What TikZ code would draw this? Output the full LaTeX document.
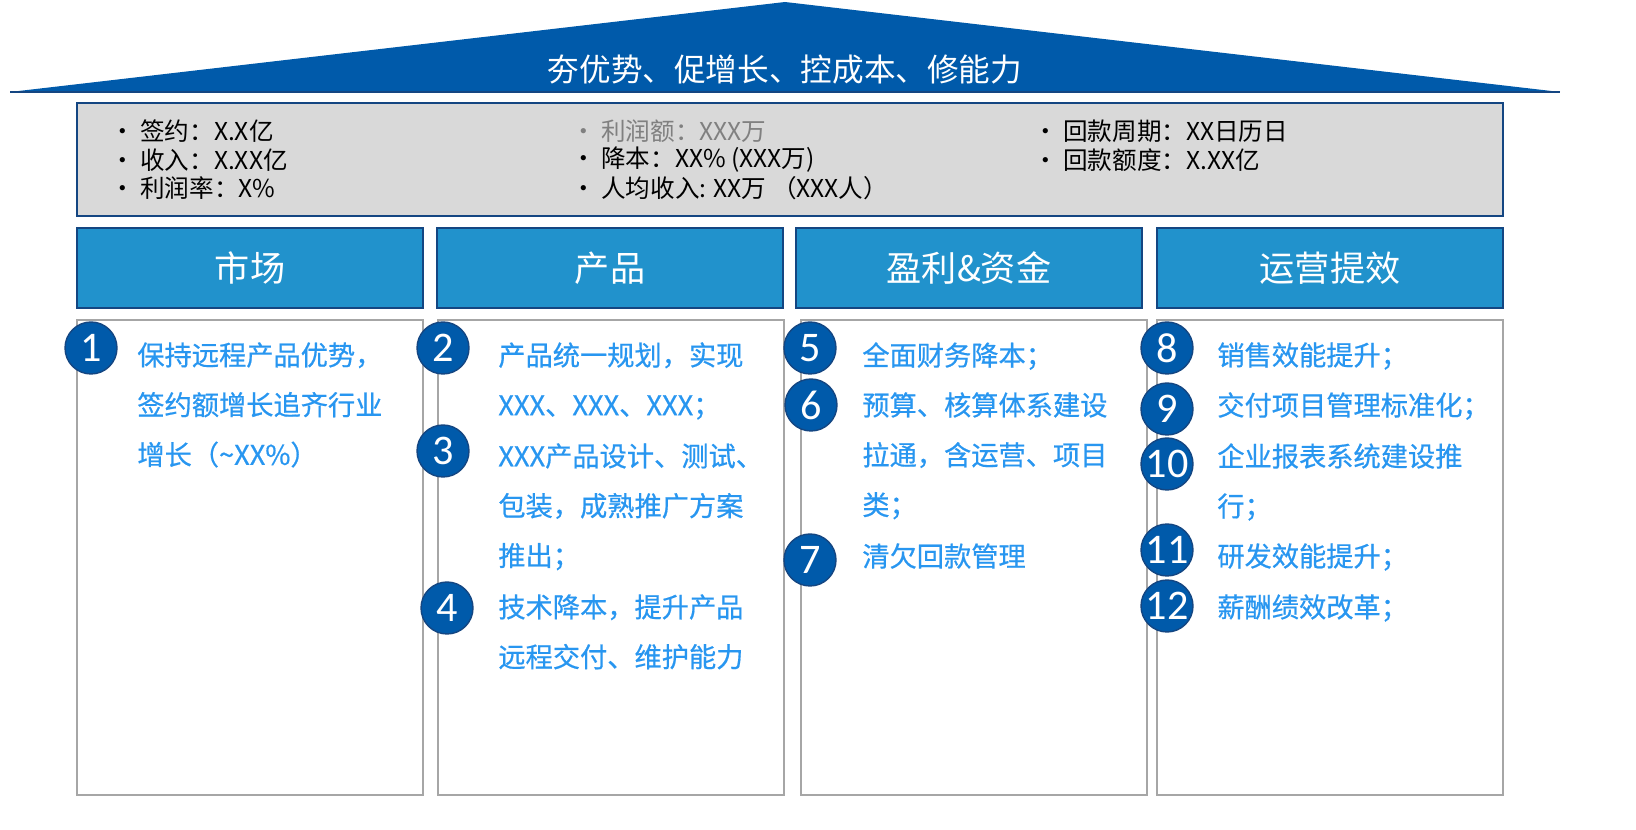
\documentclass[tikz,border=0pt]{standalone}
\usepackage{fontspec}
\setmainfont{Noto Sans CJK SC}
\newfontfamily\numfont{Carlito}
\newfontfamily\itemfont[FakeBold=0.6]{Noto Sans CJK SC}
\definecolor{roofblue}{RGB}{0,90,170}
\definecolor{navy}{RGB}{20,70,130}
\definecolor{hdrblue}{RGB}{33,146,204}
\definecolor{boxgray}{RGB}{217,217,217}
\definecolor{linegray}{RGB}{166,166,166}
\definecolor{itemblue}{RGB}{40,150,240}
\begin{document}
\begin{tikzpicture}[x=0.02cm,y=-0.02cm,
    kpi/.style={anchor=west,inner sep=0,font=\fontsize{14}{16}\selectfont},
    hdrbox/.style={draw=navy,line width=1.2pt,fill=hdrblue},
    hdrtxt/.style={text=white,font=\fontsize{20}{24}\selectfont},
    colbox/.style={draw=linegray,line width=1.2pt},
    num/.style={circle,fill=roofblue,draw=navy,line width=0.8pt,minimum size=1.04cm,inner sep=0,text=white,font=\numfont\fontsize{24}{28}\selectfont},
    item/.style={anchor=north west,inner sep=0,align=left,text=itemblue,font=\itemfont\fontsize{15.5}{28.35}\selectfont}]
    \useasboundingbox (0,0) rectangle (1636,830);
    % roof
    \fill[roofblue] (10,92) -- (785,2) -- (1560,92) -- cycle;
    \draw[navy,line width=1pt] (10,92) -- (1560,92);
    \node[text=white,font=\fontsize{18}{22}\selectfont] (title) at (785,70) {夯优势、促增长、控成本、修能力};
    % kpi box
    \draw[navy,line width=1.2pt,fill=boxgray] (77,103) rectangle (1503,216);
    \node[kpi] (k1) at (110,131) {•\hspace{3pt}签约：X.X亿};
    \node[kpi] (k2) at (110,160) {•\hspace{3pt}收入：X.XX亿};
    \node[kpi] (k3) at (110,188) {•\hspace{3pt}利润率：X\%};
    \node[kpi,text=gray] (k4) at (571,131) {•\hspace{3pt}利润额：XXX万};
    \node[kpi] (k5) at (571,160) {•\hspace{3pt}降本：XX\% (XXX万)};
    \node[kpi] (k6) at (571,188) {•\hspace{3pt}人均收入: XX万 （XXX人）};
    \node[kpi] (k7) at (1033,131) {•\hspace{3pt}回款周期：XX日历日};
    \node[kpi] (k8) at (1033,160) {•\hspace{3pt}回款额度：X.XX亿};
    % column headers
    \draw[hdrbox] (77,228) rectangle (423,308); \node[hdrtxt] (hmkt) at (250,268) {市场};
    \draw[hdrbox] (437,228) rectangle (783,308); \node[hdrtxt] (hprod) at (610,268) {产品};
    \draw[hdrbox] (796,228) rectangle (1142,308); \node[hdrtxt] (hfin) at (969,268) {盈利\&资金};
    \draw[hdrbox] (1157,228) rectangle (1503,308); \node[hdrtxt] (hops) at (1330,268) {运营提效};
    % column bodies
    \draw[colbox] (77,320) rectangle (423,795);
    \draw[colbox] (438,320) rectangle (784,795);
    \draw[colbox] (801,320) rectangle (1147,795);
    \draw[colbox] (1157,320) rectangle (1503,795);
    % market
    \node[num] (n1) at (91,348) {1};
    \node[item] (t1) at (137,342) {保持远程产品优势，\\签约额增长追齐行业\\增长（\textasciitilde XX\%）};
    % product
    \node[num] (n2) at (443,348) {2};
    \node[item] (t2) at (498,342) {产品统一规划，实现\\XXX、XXX、XXX；};
    \node[num] (n3) at (443,451) {3};
    \node[item] (t3) at (498,443) {XXX产品设计、测试、\\包装，成熟推广方案\\推出；};
    \node[num] (n4) at (447,608) {4};
    \node[item] (t4) at (498,594) {技术降本，提升产品\\远程交付、维护能力};
    % profit and funds
    \node[num] (n5) at (810,348) {5};
    \node[item] (t5) at (862,342) {全面财务降本；};
    \node[num] (n6) at (811,405) {6};
    \node[item] (t6) at (862,392) {预算、核算体系建设\\拉通，含运营、项目\\类；};
    \node[num] (n7) at (810,560) {7};
    \node[item] (t7) at (862,543) {清欠回款管理};
    % operations
    \node[num] (n8) at (1167,348) {8};
    \node[item] (t8) at (1217,342) {销售效能提升；};
    \node[num] (n9) at (1167,409) {9};
    \node[item] (t9) at (1217,392) {交付项目管理标准化；};
    \node[num] (n10) at (1167,464) {10};
    \node[item] (t10) at (1217,443) {企业报表系统建设推\\行；};
    \node[num] (n11) at (1167,550) {11};
    \node[item] (t11) at (1217,543) {研发效能提升；};
    \node[num] (n12) at (1167,606) {12};
    \node[item] (t12) at (1217,594) {薪酬绩效改革；};
\end{tikzpicture}
\end{document}
